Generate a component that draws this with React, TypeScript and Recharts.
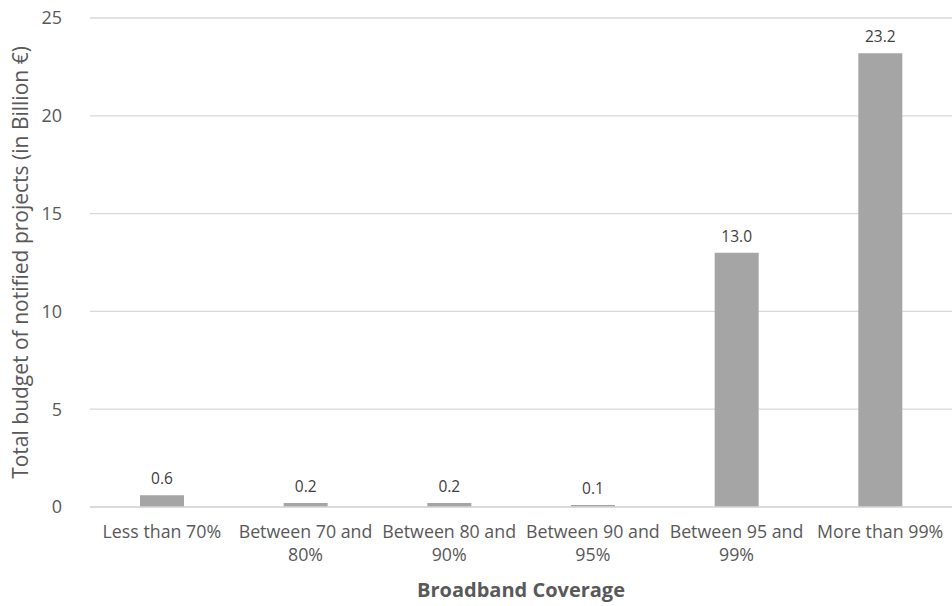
import React from "react";
import {
  BarChart,
  Bar,
  XAxis,
  YAxis,
  CartesianGrid,
  LabelList,
} from "recharts";

const categories = [
  "Less than 70%",
  "Between 70 and 80%",
  "Between 80 and 90%",
  "Between 90 and 95%",
  "Between 95 and 99%",
  "More than 99%",
];
const budget = [0.6, 0.2, 0.2, 0.1, 13.0, 23.2];
const yTicks = [0, 5, 10, 15, 20, 25];

const data = categories.map((name, i) => ({ name, budget: budget[i] }));

const TEXT = "#595959";

// split long category names into two lines, last word goes below
const CategoryTick = (props: any) => {
  const { x, y, payload } = props;
  const words = String(payload.value).split(" ");
  const lines =
    payload.value.length > 14
      ? [words.slice(0, -1).join(" "), words[words.length - 1]]
      : [payload.value];
  return (
    <text x={x} y={y} textAnchor="middle" fill={TEXT} style={{ fontSize: "17.8px" }}>
      {lines.map((l, i) => (
        <tspan key={i} x={x} dy={i === 0 ? 31 : 23}>
          {l}
        </tspan>
      ))}
    </text>
  );
};

const YTitle = (props: any) => {
  const { viewBox } = props;
  const cx = viewBox.x + 22;
  const cy = viewBox.y + viewBox.height / 2;
  return (
    <text
      x={cx}
      y={cy}
      transform={`rotate(-90 ${cx} ${cy})`}
      textAnchor="middle"
      dominantBaseline="middle"
      fill={TEXT}
      style={{ fontSize: "21px" }}
    >
      Total budget of notified projects (in Billion €)
    </text>
  );
};

const XTitle = (props: any) => {
  const { viewBox } = props;
  return (
    <text
      x={viewBox.x + viewBox.width / 2}
      y={viewBox.y + 85}
      textAnchor="middle"
      dominantBaseline="middle"
      fill={TEXT}
      style={{ fontSize: "20px", fontWeight: 700 }}
    >
      Broadband Coverage
    </text>
  );
};

export default function App() {
  return (
    <div
      style={{
        position: "absolute",
        left: 0,
        top: 0,
        width: 952,
        height: 606,
        background: "#fff",
        fontFamily: "'Open Sans', sans-serif",
      }}
    >
      <BarChart
        width={952}
        height={606}
        data={data}
        margin={{ top: 18, right: 0, left: 0, bottom: 0 }}
      >
        <CartesianGrid vertical={false} stroke="#d9d9d9" strokeWidth={1.3} />
        <XAxis
          dataKey="name"
          height={99}
          interval={0}
          tickLine={false}
          tickSize={0}
          tickMargin={0}
          axisLine={{ stroke: "#d9d9d9", strokeWidth: 1.3 }}
          tick={<CategoryTick />}
          label={<XTitle />}
        />
        <YAxis
          width={90}
          domain={[0, 25]}
          ticks={yTicks}
          axisLine={false}
          tickLine={false}
          tickSize={0}
          tickMargin={28}
          tick={{ fill: TEXT, fontSize: 18 }}
          label={<YTitle />}
        />
        <Bar dataKey="budget" fill="#a5a5a5" barSize={44} isAnimationActive={false}>
          <LabelList
            dataKey="budget"
            position="top"
            offset={11}
            fill="#404040"
            fontSize={15.5}
            formatter={(v: any) => Number(v).toFixed(1)}
          />
        </Bar>
      </BarChart>
    </div>
  );
}
